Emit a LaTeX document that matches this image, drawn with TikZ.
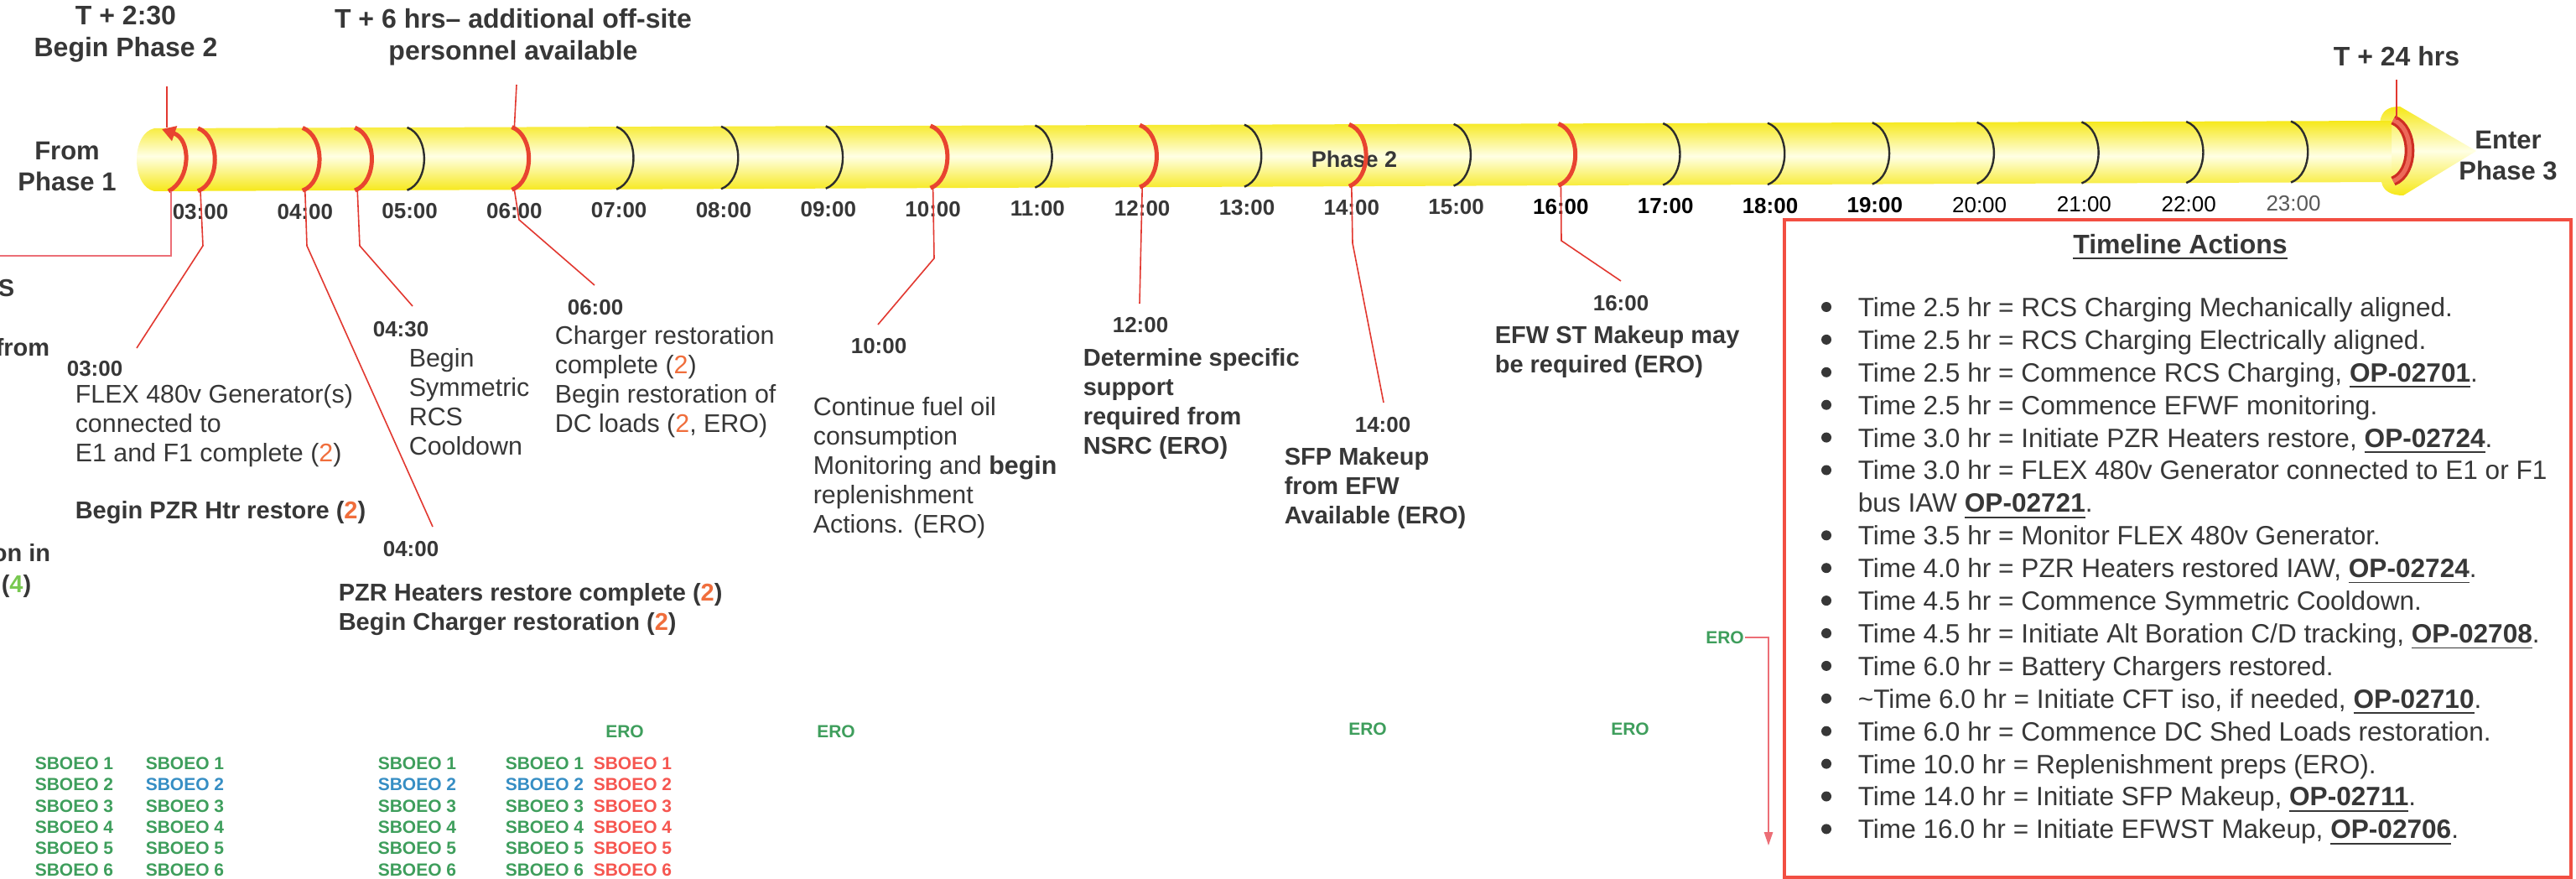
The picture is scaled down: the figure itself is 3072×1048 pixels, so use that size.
\documentclass[tikz,border=0pt]{standalone}
\usepackage{fontspec}
\setmainfont{Liberation Sans}
\usetikzlibrary{arrows.meta}
\definecolor{txt}{RGB}{55,55,55}
\definecolor{ringred}{RGB}{232,68,48}
\definecolor{ringdark}{RGB}{205,45,35}
\definecolor{lnred}{RGB}{226,56,48}
\definecolor{pinkln}{RGB}{236,110,118}
\definecolor{orng}{RGB}{240,110,60}
\definecolor{lgreen}{RGB}{120,200,80}
\definecolor{sgreen}{RGB}{62,158,92}
\definecolor{sblue}{RGB}{54,142,196}
\definecolor{sred}{RGB}{246,86,80}
\definecolor{boxred}{RGB}{242,78,66}
\definecolor{barY}{RGB}{246,232,24}
\definecolor{barHi}{RGB}{255,255,228}
\definecolor{ringblk}{RGB}{45,45,45}
\newcommand\two{\textcolor{orng}{2}}
\newcommand\opref[1]{\underline{\textbf{#1}}}
\begin{document}
\begin{tikzpicture}[x=0.25pt,y=-0.25pt,
  every node/.style={inner sep=0pt,text=txt},
  toplbl/.style={font=\fontsize{8pt}{9.5pt}\selectfont\bfseries,align=center},
  hb/.style={font=\fontsize{6.5pt}{7pt}\selectfont\bfseries,text=txt},
  hk/.style={font=\fontsize{6.5pt}{7pt}\selectfont\bfseries,text=black},
  hr/.style={font=\fontsize{6.5pt}{7pt}\selectfont,text=black},
  hg/.style={font=\fontsize{6.5pt}{7pt}\selectfont,text=black!65},
  ctime/.style={font=\fontsize{6.5pt}{7pt}\selectfont\bfseries,anchor=north west},
  callb/.style={font=\fontsize{7.25pt}{8.75pt}\selectfont\bfseries,align=left,anchor=north west},
  callr/.style={font=\fontsize{7.6pt}{8.75pt}\selectfont,align=left,anchor=north west},
  frag/.style={font=\fontsize{7.25pt}{8.75pt}\selectfont\bfseries,anchor=north east},
  conn/.style={draw=lnred,line width=0.4pt},
  redring/.style={draw=ringred,line width=1.25pt},
  blkring/.style={draw=ringblk,line width=0.6pt},
  item/.style={font=\fontsize{7.9pt}{9.7pt}\selectfont,anchor=base west},
  sbo/.style={font=\fontsize{5.25pt}{6.35pt}\selectfont\bfseries,anchor=west},
  ero/.style={font=\fontsize{5.25pt}{6.35pt}\selectfont\bfseries,text=sgreen}]
\useasboundingbox (0,0) rectangle (3072,1048);
\fill[white] (0,0) rectangle (3072,1048);

% ---- bar ----
\shade[top color=barY,bottom color=barY,middle color=barHi]
  (2838,146) .. controls (2840,132) and (2848,127) .. (2862,127) -- (2953,180)
  -- (2866,233) .. controls (2852,233) and (2842,228) .. (2840,217) -- cycle;
\shade[top color=barY,bottom color=barY,middle color=barHi]
  (184,153) -- (2852,144) -- (2852,217) -- (184,228)
  .. controls (156,222) and (156,159) .. (184,153) -- cycle;
\node[font=\fontsize{6.75pt}{7pt}\selectfont\bfseries] (ph2) at (1615,190) {Phase 2};

% ---- rings ----
\foreach \h/\sty/\nm in {3/redring/3,4/redring/4,4.5/redring/45,5/blkring/5,6/redring/6,
  7/blkring/7,8/blkring/8,9/blkring/9,10/redring/10,11/blkring/11,12/redring/12,
  13/blkring/13,14/redring/14,15/blkring/15,16/redring/16,17/blkring/17,18/blkring/18,
  19/blkring/19,20/blkring/20,21/blkring/21,22/blkring/22,23/blkring/23}{
  \pgfmathsetmacro\xx{239+(\h-3)*124.8}
  \pgfmathsetmacro\yt{153-(\xx-184)*0.0033}
  \pgfmathsetmacro\yb{228-(\xx-184)*0.0041}
  \draw[\sty] (\xx-3,\yt) .. controls (\xx+24,\yt+10) and (\xx+24,\yb-10) .. (\xx-3,\yb);
  \coordinate (rt\nm) at (\xx,\yt);
  \coordinate (rb\nm) at (\xx,\yb);
}
% first ring with arrow
\draw[redring,-{Triangle[length=4pt,width=4.5pt]}] (201,228) .. controls (228,214) and (228,166) .. (193,154);
\coordinate (rt0) at (199,152);
\coordinate (rb0) at (204,228);
% T+24 ring
\draw[draw=ringdark,double=ringred!80!white,double distance=1.3pt,line width=0.8pt]
  (2854,143) .. controls (2880,153) and (2880,206) .. (2854,216);
\coordinate (rt24) at (2858,143);

% ---- hour labels ----
\foreach \h/\lab/\st in {3/03:00/hb,4/04:00/hb,5/05:00/hb,6/06:00/hb,7/07:00/hb,8/08:00/hb,
  9/09:00/hb,10/10:00/hb,11/11:00/hb,12/12:00/hb,13/13:00/hb,14/14:00/hb,15/15:00/hb,
  16/16:00/hk,17/17:00/hk,18/18:00/hk,19/19:00/hk,20/20:00/hr,21/21:00/hr,22/22:00/hr,23/23:00/hg}{
  \pgfmathsetmacro\xx{239+(\h-3)*124.8}
  \pgfmathsetmacro\yy{253-(\xx-239)*0.004}
  \node[\st] (h\h) at (\xx,\yy) {\lab};
}

% ---- top labels ----
\node[toplbl,anchor=north] (t230) at (150,6) {T + 2:30\\Begin Phase 2};
\node[toplbl,anchor=north] (t6) at (612,10) {T + 6 hrs-- additional off-site\\personnel available};
\node[toplbl,anchor=north] (t24) at (2858,55) {T + 24 hrs};
\coordinate (t230e) at (199,103);
\coordinate (t6e) at (616,101);
\coordinate (t24e) at (2858,95);
\draw[conn] (t230e) -- (rt0);
\draw[conn] (t6e) -- (rt6);
\draw[conn] (t24e) -- (rt24);

\node[font=\fontsize{7.75pt}{9.25pt}\selectfont\bfseries,align=center,anchor=north] (from) at (80,168) {From\\Phase 1};
\node[font=\fontsize{7.75pt}{9.25pt}\selectfont\bfseries,align=center,anchor=north] (enter) at (2991,155) {Enter\\Phase 3};

% left box fragment
\coordinate (lb) at (0,305);
\draw[draw=pinkln,line width=0.4pt] (rb0) -- (204,305) -- (lb);
\node[frag] (fS) at (18,332) {S};
\node[frag] (ffrom) at (60,403) {from};
\node[frag] (fon) at (61,648) {on in};
\node[frag] (f4) at (38,685) {(\textcolor{lgreen}{4})};

% ---- callouts ----
\node[ctime] (c03) at (79,430) {03:00};
\node[callr] (cflex) at (89,458) {FLEX 480v Generator(s)\\connected to\\E1 and F1 complete (\two)};
\node[callb] (cpzr) at (89,597) {Begin PZR Htr restore (\two)};
\coordinate (e3) at (163,415);
\draw[conn] (rb3) -- (242,293) -- (e3);

\node[ctime] (c0430) at (444,383) {04:30};
\node[callr] (csym) at (487,415) {Begin\\Symmetric\\RCS\\Cooldown};
\coordinate (e45) at (492,365);
\draw[conn] (rb45) -- (429,293) -- (e45);

\node[ctime] (c0400) at (456,645) {04:00};
\node[callb] (cheat) at (403,695) {PZR Heaters restore complete (\two)\\Begin Charger restoration (\two)};
\coordinate (e4) at (516,628);
\draw[conn] (rb4) -- (366,293) -- (e4);

\node[ctime] (c0600) at (676,357) {06:00};
\node[callr] (cchg) at (661,388) {Charger restoration\\complete (\two)\\Begin restoration of\\DC loads (\two, ERO)};
\coordinate (e6) at (709,340);
\draw[conn] (rb6) -- (619,262) -- (e6);

\node[ctime] (c1000) at (1014,403) {10:00};
\node[callr] (cfuel) at (969,473) {Continue fuel oil\\consumption\\Monitoring and \textbf{begin}\\replenishment\\Actions. (ERO)};
\coordinate (e10) at (1047,387);
\draw[conn] (rb10) -- (1114,308) -- (e10);

\node[ctime] (c1200) at (1326,378) {12:00};
\node[callb] (cdet) at (1291,415) {Determine specific\\support\\required from\\NSRC (ERO)};
\coordinate (e12) at (1359,362);
\draw[conn] (rb12) -- (e12);

\node[ctime] (c1400) at (1615,497) {14:00};
\node[callb] (csfp) at (1531,533) {SFP Makeup\\from EFW\\Available (ERO)};
\coordinate (e14) at (1650,480);
\draw[conn] (rb14) -- (1613,290) -- (e14);

\node[ctime] (c1600) at (1899,352) {16:00};
\node[callb] (cefw) at (1782,388) {EFW ST Makeup may\\be required (ERO)};
\coordinate (e16) at (1933,335);
\draw[conn] (rb16) -- (1862,287) -- (e16);

% ---- timeline actions box ----
\draw[boxred,line width=1.2pt] (2128,262) rectangle (3066,1046);
\node[font=\fontsize{8pt}{9.5pt}\selectfont\bfseries,anchor=base] (tahead) at (2600,302) {\underline{Timeline Actions}};
\foreach \k in {0,1,2,3,4,5,7,8,9,10,11,12,13,14,15,16}{
  \fill[txt] (2178,366+38.9*\k) circle (6);
}
\foreach \k/\t in {
  0/{Time 2.5 hr = RCS Charging Mechanically aligned.},
  1/{Time 2.5 hr = RCS Charging Electrically aligned.},
  2/{Time 2.5 hr = Commence RCS Charging, \opref{OP-02701}.},
  3/{Time 2.5 hr = Commence EFWF monitoring.},
  4/{Time 3.0 hr = Initiate PZR Heaters restore, \opref{OP-02724}.},
  5/{Time 3.0 hr = FLEX 480v Generator connected to E1 or F1},
  6/{bus IAW \opref{OP-02721}.},
  7/{Time 3.5 hr = Monitor FLEX 480v Generator.},
  8/{Time 4.0 hr = PZR Heaters restored IAW, \opref{OP-02724}.},
  9/{Time 4.5 hr = Commence Symmetric Cooldown.},
  10/{Time 4.5 hr = Initiate Alt Boration C/D tracking, \opref{OP-02708}.},
  11/{Time 6.0 hr = Battery Chargers restored.},
  12/{\textasciitilde Time 6.0 hr = Initiate CFT iso, if needed, \opref{OP-02710}.},
  13/{Time 6.0 hr = Commence DC Shed Loads restoration.},
  14/{Time 10.0 hr = Replenishment preps (ERO).},
  15/{Time 14.0 hr = Initiate SFP Makeup, \opref{OP-02711}.},
  16/{Time 16.0 hr = Initiate EFWST Makeup, \opref{OP-02706}.}}{
  \node[item] (it\k) at (2215,377.4+38.9*\k) {\t};
}

% ---- ERO arrow ----
\node[ero] (eroA) at (2057,760) {ERO};
\coordinate (eroEnd) at (2109,1008);
\draw[draw=pinkln,line width=0.4pt,-{Triangle[length=4pt,width=2.6pt]}] (eroA.east) -| (eroEnd);

% ---- bottom SBOEO columns ----
\node[ero] (ero1) at (745,872) {ERO};
\node[ero] (ero2) at (997,872) {ERO};
\node[ero] (ero3) at (1631,869) {ERO};
\node[ero] (ero4) at (1944,869) {ERO};
\foreach \c/\x in {1/41,2/173,3/450,4/602,5/707}{
  \foreach \r in {1,...,6}{
    \pgfmathsetmacro\yy{910+25.4*(\r-1)}
    \ifnum\c=1 \def\col{sgreen}\fi
    \ifnum\c>1 \ifnum\r=2 \def\col{sblue}\else\def\col{sgreen}\fi\fi
    \ifnum\c=5 \def\col{sred}\fi
    \node[sbo,text=\col] (s\c\r) at (\x,\yy) {SBOEO \r};
  }
}
\end{tikzpicture}
\end{document}
